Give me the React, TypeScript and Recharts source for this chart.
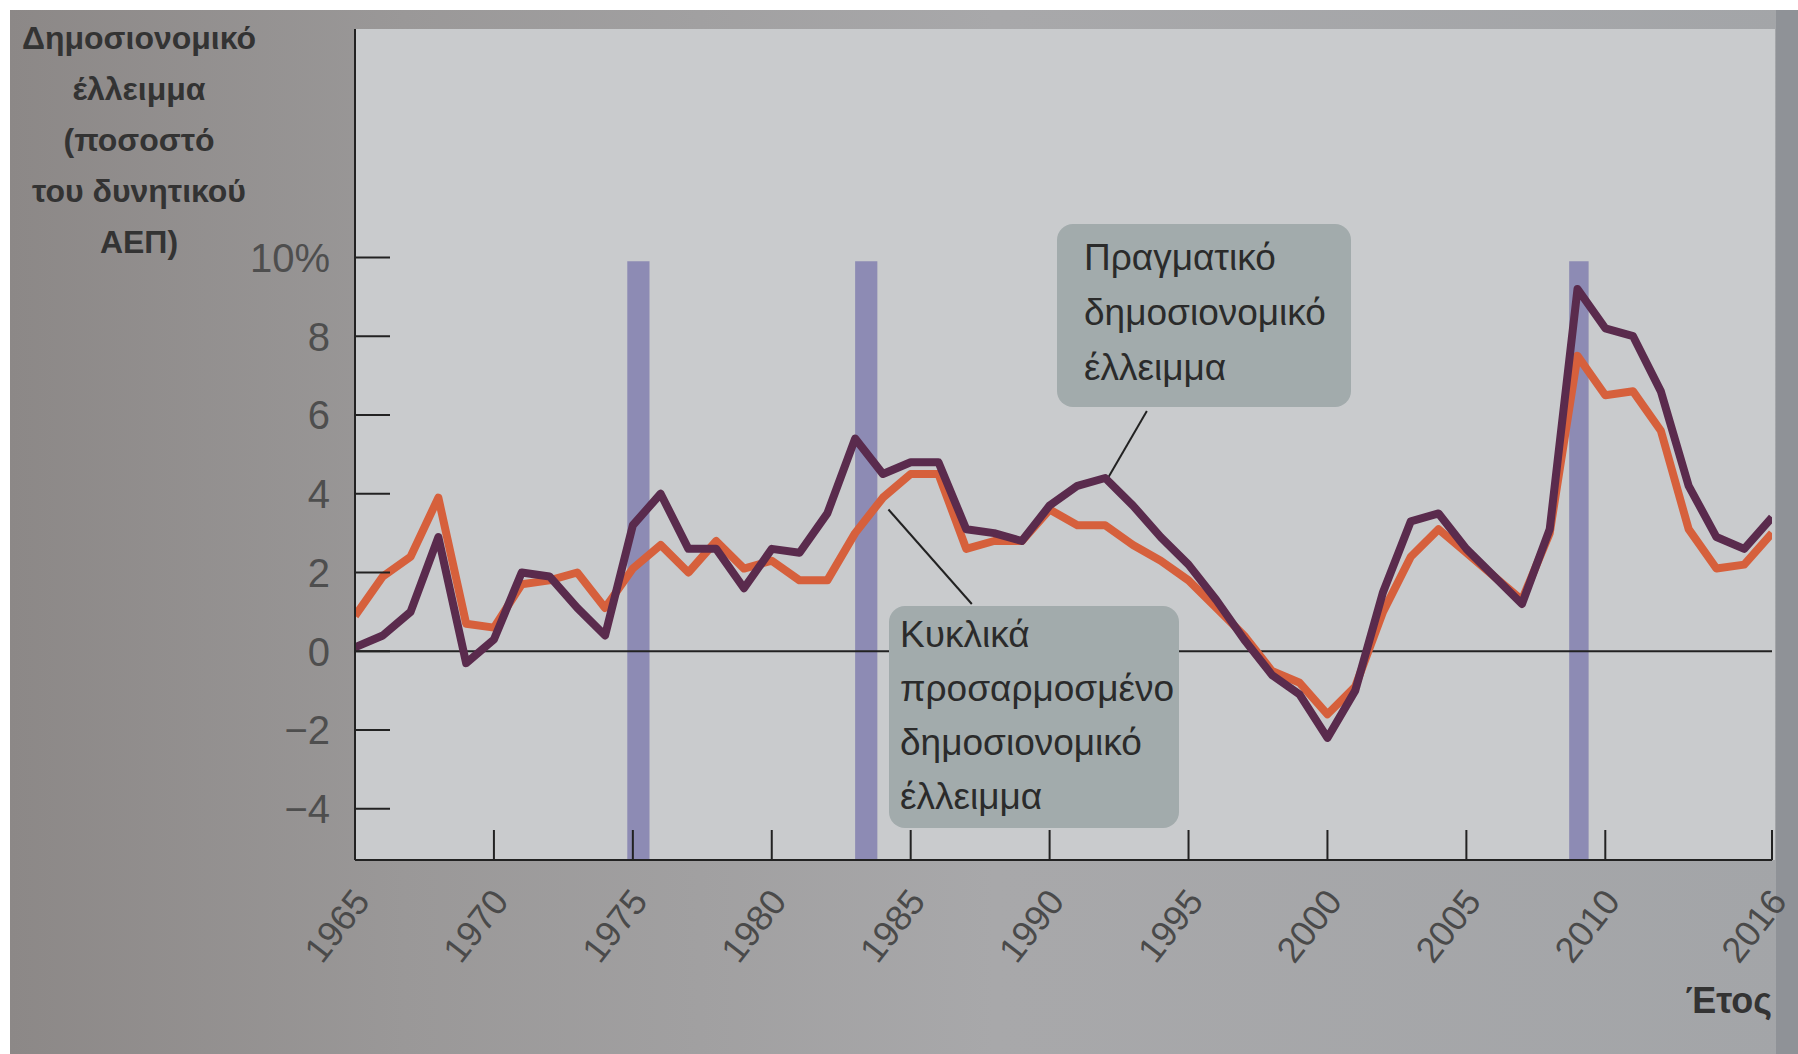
import React from 'react'
import {
  LineChart,
  Line,
  XAxis,
  YAxis,
  ReferenceArea,
  ReferenceLine
} from 'recharts'

// ποσοστό του δυνητικού ΑΕΠ, 1965-2016
const START_YEAR = 1965
const actualDeficit = [
  0.1, 0.4, 1.0, 2.9, -0.3, 0.3, 2.0, 1.9, 1.1, 0.4,
  3.2, 4.0, 2.6, 2.6, 1.6, 2.6, 2.5, 3.5, 5.4, 4.5,
  4.8, 4.8, 3.1, 3.0, 2.8, 3.7, 4.2, 4.4, 3.7, 2.9,
  2.2, 1.3, 0.3, -0.6, -1.1, -2.2, -1.0, 1.5, 3.3, 3.5,
  2.6, 1.9, 1.2, 3.1, 9.2, 8.2, 8.0, 6.6, 4.2, 2.9,
  2.6, 3.4
]
const adjustedDeficit = [
  0.9, 1.9, 2.4, 3.9, 0.7, 0.6, 1.7, 1.8, 2.0, 1.1,
  2.1, 2.7, 2.0, 2.8, 2.1, 2.3, 1.8, 1.8, 3.0, 3.9,
  4.5, 4.5, 2.6, 2.8, 2.8, 3.6, 3.2, 3.2, 2.7, 2.3,
  1.8, 1.1, 0.4, -0.5, -0.8, -1.6, -0.9, 1.0, 2.4, 3.1,
  2.5, 1.9, 1.3, 3.0, 7.5, 6.5, 6.6, 5.6, 3.1, 2.1,
  2.2, 3.0
]
const xTicks = [1965, 1970, 1975, 1980, 1985, 1990, 1995, 2000, 2005, 2010, 2016]
const yTicks = [-4, -2, 0, 2, 4, 6, 8, 10]
const recessionStarts = [1974.8, 1983.0, 2008.7]
const recessionEnds = [1975.6, 1983.8, 2009.4]
const recessionTop = 9.9

const chartData = actualDeficit.map((v, i) => ({
  year: START_YEAR + i,
  actual: v,
  adjusted: adjustedDeficit[i]
}))

const FONT = '"Liberation Sans", Arial, sans-serif'

const YTick = (props: any) => {
  const { x, y, payload } = props
  const v = payload.value
  const label = v === 10 ? '10%' : v < 0 ? '\u2212' + Math.abs(v) : String(v)
  return (
    <g>
      <line x1={x} x2={x + 35} y1={y} y2={y} stroke="#222" strokeWidth={2} />
      <text x={x - 25} y={y} dy="0.36em" textAnchor="end" fontSize={40} fill="#4e4e4e" fontFamily={FONT}>
        {label}
      </text>
    </g>
  )
}

const XTick = (props: any) => {
  const { x, y, payload } = props
  const tx = x + 6
  const ty = y + 34
  return (
    <g>
      <line x1={x} x2={x} y1={y} y2={y - 30} stroke="#222" strokeWidth={2} />
      <text
        x={tx}
        y={ty}
        dy="0.36em"
        textAnchor="end"
        fontSize={36}
        fill="#4a4a4a"
        fontFamily={FONT}
        transform={`rotate(-52 ${tx} ${ty})`}
      >
        {payload.value}
      </text>
    </g>
  )
}

const boxStyle: React.CSSProperties = {
  position: 'absolute',
  background: '#a2abac',
  borderRadius: 16,
  fontFamily: FONT,
  fontSize: 37,
  color: '#2b2b2b',
  boxSizing: 'border-box'
}

export default function App() {
  return (
    <div style={{ position: 'absolute', left: 0, top: 0, width: 1798, height: 1054, background: '#ffffff', overflow: 'hidden' }}>
      <div
        style={{
          position: 'absolute', left: 10, top: 10, right: 0, bottom: 0,
          background: 'linear-gradient(90deg, #8c8887 0%, #9a9898 22%, #a8a8aa 55%, #a3a5a8 100%)'
        }}
      />
      <div style={{ position: 'absolute', left: 355, top: 29, width: 1420, height: 831, background: '#c9cbcd' }} />
      <div style={{ position: 'absolute', left: 1776, top: 10, width: 22, height: 1044, background: '#8f9297' }} />

      <div
        style={{
          position: 'absolute', left: 8, top: 13, width: 262, textAlign: 'center',
          fontFamily: FONT, fontWeight: 'bold', fontSize: 32, lineHeight: '51px', color: '#333333'
        }}
      >
        Δημοσιονομικό<br />έλλειμμα<br />(ποσοστό<br />του δυνητικού<br />ΑΕΠ)
      </div>

      <div style={{ position: 'absolute', left: 0, top: 0 }}>
        <LineChart width={1798} height={1054} data={chartData} margin={{ top: 29, right: 26, left: 0, bottom: 0 }}>
          <XAxis
            dataKey="year"
            type="number"
            domain={[1965, 2016]}
            ticks={xTicks}
            height={194}
            tickSize={0}
            tickMargin={0}
            tick={<XTick />}
            axisLine={{ stroke: '#222', strokeWidth: 2 }}
            tickLine={false}
            allowDataOverflow
          />
          <YAxis
            type="number"
            domain={[-5.3, 15.8]}
            ticks={yTicks}
            width={355}
            tickSize={0}
            tickMargin={0}
            tick={<YTick />}
            axisLine={{ stroke: '#222', strokeWidth: 2 }}
            tickLine={false}
            allowDataOverflow
          />
          {recessionStarts.map((s, i) => (
            <ReferenceArea
              key={`rec-${i}`}
              x1={s}
              x2={recessionEnds[i]}
              y1={-5.3}
              y2={recessionTop}
              fill="#8a87b2"
              fillOpacity={0.95}
              stroke="none"
            />
          ))}
          <ReferenceLine y={0} stroke="#222" strokeWidth={2} />
          <ReferenceLine segment={[{ x: 1993.5, y: 6.1 }, { x: 1992.1, y: 4.4 }]} stroke="#222" strokeWidth={2} />
          <ReferenceLine segment={[{ x: 1987.2, y: 1.2 }, { x: 1984.2, y: 3.6 }]} stroke="#222" strokeWidth={2} />
          <Line
            type="linear"
            dataKey="adjusted"
            stroke="#d6603c"
            strokeWidth={8}
            strokeLinejoin="round"
            dot={false}
            isAnimationActive={false}
          />
          <Line
            type="linear"
            dataKey="actual"
            stroke="#5a2b4d"
            strokeWidth={8}
            strokeLinejoin="round"
            dot={false}
            isAnimationActive={false}
          />
        </LineChart>
      </div>

      <div style={{ ...boxStyle, left: 1057, top: 224, width: 294, height: 183, padding: '6px 0 0 27px', lineHeight: '55px' }}>
        Πραγματικό<br />δημοσιονομικό<br />έλλειμμα
      </div>
      <div style={{ ...boxStyle, left: 889, top: 606, width: 290, height: 222, padding: '2px 0 0 11px', lineHeight: '54px' }}>
        Κυκλικά<br />προσαρμοσμένο<br />δημοσιονομικό<br />έλλειμμα
      </div>

      <div
        style={{
          position: 'absolute', right: 26, top: 980, fontFamily: FONT, fontWeight: 'bold',
          fontSize: 36, color: '#333'
        }}
      >
        Έτος
      </div>
    </div>
  )
}
